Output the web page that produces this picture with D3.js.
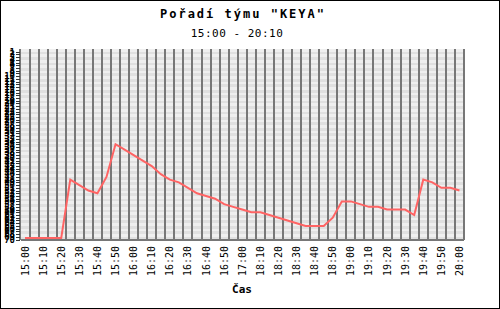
<!DOCTYPE html>
<html>
<head>
<meta charset="utf-8">
<script src="https://cdn.jsdelivr.net/npm/d3@7"></script>
<style>
  body { margin: 0; background: #fff; }
  text { font-family: "DejaVu Sans Mono", monospace; }
</style>
</head>
<body>
<div id="chart"></div>
<script>
const width = 500;
const height = 309;

// time slots (every 5 min, with a gap), label shown on every second slot
const times = ["15:00","15:05","15:10","15:15","15:20","15:25","15:30","15:35","15:40","15:45",
  "15:50","15:55","16:00","16:05","16:10","16:15","16:20","16:25","16:30","16:35",
  "16:40","16:45","16:50","16:55","17:00","18:05","18:10","18:15","18:20","18:25",
  "18:30","18:35","18:40","18:45","18:50","18:55","19:00","19:05","19:10","19:15",
  "19:20","19:25","19:30","19:35","19:40","19:45","19:50","19:55","20:00"];

// team rank at each slot
const ranks = [70,70,70,70,70,48,50,52,53,47,
  35,37,39,41,43,46,48,49,51,53,
  54,55,57,58,59,60,60,61,62,63,
  64,65,65,65,62,56,56,57,58,58,
  59,59,59,61,48,49,51,51,52];

const rankMax = 70;
const rankTicks = d3.range(1, rankMax + 1);

const margin = {top: 49, right: 36, bottom: 69.5, left: 20.5};

var svg = d3.select("div#chart")
  .append("svg")
  .attr("width", width)
  .attr("height", height);

svg.append("rect")
  .attr("x", 0.5).attr("y", 0.5)
  .attr("width", width - 1).attr("height", height - 1)
  .attr("fill", "#fff")
  .attr("stroke", "#000");

const x = d3.scaleBand()
  .domain(times)
  .range([margin.left, width - margin.right]);

const y = d3.scaleLinear()
  .domain([0, rankMax])
  .range([margin.top, height - margin.bottom]);

// alternating bands
svg.append("g")
  .attr("shape-rendering", "crispEdges")
  .selectAll("rect")
  .data(d3.range(0, rankMax))
  .enter()
  .append("rect")
  .attr("x", margin.left)
  .attr("width", width - margin.right - margin.left)
  .attr("y", d => y(d))
  .attr("height", d => y(d + 1) - y(d))
  .attr("fill", d => d % 2 ? "#e0e0e0" : "#efefef");

// vertical grid at slot boundaries
const bounds = times.map(t => x(t)).concat([x.range()[1]]);
svg.append("g")
  .attr("shape-rendering", "crispEdges")
  .selectAll("line")
  .data(bounds)
  .enter()
  .append("line")
  .attr("x1", d => Math.round(d)).attr("x2", d => Math.round(d))
  .attr("y1", margin.top).attr("y2", height - margin.bottom)
  .attr("stroke", "#777")
  .attr("stroke-width", 2);

// x axis line
svg.append("line")
  .attr("shape-rendering", "crispEdges")
  .attr("x1", margin.left).attr("x2", width - margin.right)
  .attr("y1", height - margin.bottom).attr("y2", height - margin.bottom)
  .attr("stroke", "#777")
  .attr("stroke-width", 2);

// y ticks + crowded labels
svg.append("g")
  .attr("shape-rendering", "crispEdges")
  .selectAll("line")
  .data(rankTicks)
  .enter()
  .append("line")
  .attr("x1", 16).attr("x2", 20)
  .attr("y1", d => Math.round(y(d)) + 0.5).attr("y2", d => Math.round(y(d)) + 0.5)
  .attr("stroke", "#333");

svg.append("g")
  .selectAll("text")
  .data(rankTicks)
  .enter()
  .append("text")
  .attr("x", 15)
  .attr("y", d => y(d) + 3)
  .attr("text-anchor", "end")
  .attr("font-size", "9px")
  .attr("font-weight", "bold")
  .attr("fill", "#000")
  .text(d => d);

// x labels, rotated
svg.append("g")
  .selectAll("text")
  .data(times.filter((t, i) => i % 2 == 0))
  .enter()
  .append("text")
  .attr("transform", d => "translate(" + (x(d) + x.bandwidth() / 2 + 3.5) + ",246) rotate(-90)")
  .attr("text-anchor", "end")
  .attr("font-size", "10px")
  .attr("fill", "#000")
  .text(d => d);

// line
const line = d3.line()
  .x((d, i) => x(times[i]) + x.bandwidth() / 2)
  .y(d => Math.min(y(d), height - margin.bottom - 1.5));

svg.append("path")
  .datum(ranks)
  .attr("d", line)
  .attr("fill", "none")
  .attr("stroke", "#ff6464")
  .attr("stroke-width", 2);

// titles
svg.append("text")
  .attr("x", 243).attr("y", 18)
  .attr("text-anchor", "middle")
  .attr("font-size", "12px")
  .attr("font-weight", "bold")
  .attr("letter-spacing", "2px")
  .text('Pořadí týmu "KEYA"');

svg.append("text")
  .attr("x", 237).attr("y", 37)
  .attr("text-anchor", "middle")
  .attr("font-size", "11px")
  .attr("letter-spacing", "0.5px")
  .text("15:00 - 20:10");

svg.append("text")
  .attr("x", 242).attr("y", 293)
  .attr("text-anchor", "middle")
  .attr("font-size", "11px")
  .attr("font-weight", "bold")
  .text("Čas");
</script>
</body>
</html>
